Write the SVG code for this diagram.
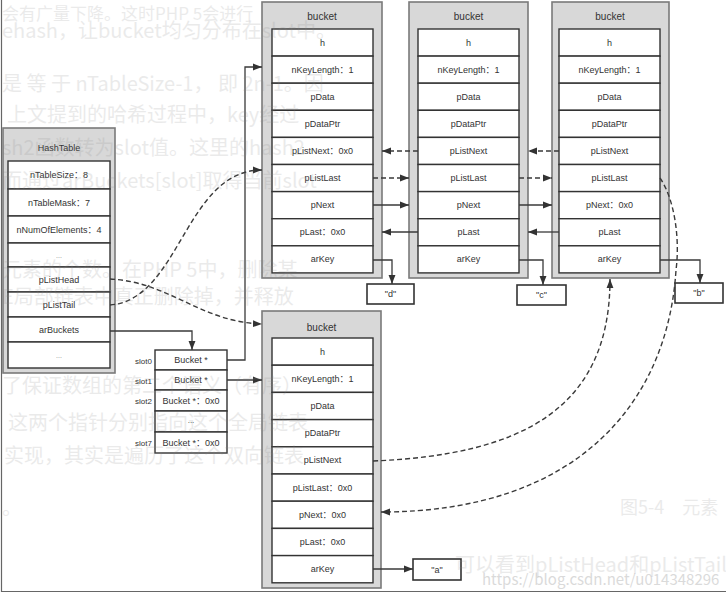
<svg xmlns="http://www.w3.org/2000/svg" width="726" height="593" viewBox="0 0 726 593">
<style>
.outer{fill:#d8d8d8;stroke:#7a7a7a;stroke-width:1.6}
.row{fill:#fff;stroke:#333;stroke-width:1.4}
.box{fill:#fff;stroke:#333;stroke-width:1.6}
.t{font-family:"Liberation Sans","Noto Sans CJK SC",sans-serif;font-size:9px;fill:#333;text-anchor:middle;dominant-baseline:central}
.ttl{font-family:"Liberation Sans","Noto Sans CJK SC",sans-serif;font-size:10px;fill:#333;text-anchor:middle;dominant-baseline:central}
.sl{font-family:"Liberation Sans",sans-serif;font-size:8px;fill:#333;text-anchor:end;dominant-baseline:central}
.c{fill:none;stroke:#3a3a3a;stroke-width:1.3}
.d{fill:none;stroke:#3a3a3a;stroke-width:1.4;stroke-dasharray:5 3}
.g{font-family:"Noto Sans CJK SC","Liberation Sans",sans-serif;font-size:20px;fill:#888;opacity:0.17}
</style>
<defs>
<marker id="ah" viewBox="0 0 10 10" refX="10" refY="5" markerWidth="9" markerHeight="9" markerUnits="userSpaceOnUse" orient="auto"><path d="M0,1.2 L10,5 L0,8.8 z" fill="#333"/></marker>
</defs>
<rect width="726" height="593" fill="#fff"/>
<path d="M1.5,0 V591.5 H726" fill="none" stroke="#666" stroke-width="1.2"/>

<g id="hashtable">
<rect class="outer" x="3" y="128" width="112" height="245"/>
<text class="ttl" x="59" y="148" style="font-size:9px">HashTable</text>
<rect class="row" x="8" y="161" width="102" height="28"/><text class="t" x="59" y="175">nTableSize：8</text>
<rect class="row" x="8" y="189" width="102" height="27"/><text class="t" x="59" y="202.5">nTableMask：7</text>
<rect class="row" x="8" y="216" width="102" height="27"/><text class="t" x="59" y="229.5">nNumOfElements：4</text>
<rect class="row" x="8" y="243" width="102" height="24"/><text class="t" x="59" y="255" style="font-size:7px;fill:#888">...</text>
<rect class="row" x="8" y="267" width="102" height="25"/><text class="t" x="59" y="279.5">pListHead</text>
<rect class="row" x="8" y="292" width="102" height="25"/><text class="t" x="59" y="304.5">pListTail</text>
<rect class="row" x="8" y="317" width="102" height="25"/><text class="t" x="59" y="329.5">arBuckets</text>
<rect class="row" x="8" y="342" width="102" height="26"/><text class="t" x="59" y="355" style="font-size:7px;fill:#888">...</text>
</g>

<g id="slots">
<rect class="row" x="155" y="350" width="72" height="20"/><text class="t" x="191" y="360">Bucket *</text>
<rect class="row" x="155" y="370" width="72" height="20"/><text class="t" x="191" y="380">Bucket *</text>
<rect class="row" x="155" y="390" width="72" height="21"/><text class="t" x="191" y="400.5">Bucket *：0x0</text>
<rect class="row" x="155" y="411" width="72" height="21"/><text class="t" x="191" y="420" style="font-size:8px">...</text>
<rect class="row" x="155" y="432" width="72" height="21"/><text class="t" x="191" y="442.5">Bucket *：0x0</text>
<text class="sl" x="152" y="361">slot0</text>
<text class="sl" x="152" y="381">slot1</text>
<text class="sl" x="152" y="401">slot2</text>
<text class="sl" x="152" y="443">slot7</text>
</g>

<g id="bucket-d">
<rect class="outer" x="262" y="2" width="120" height="276"/>
<text class="ttl" x="322" y="16">bucket</text>
<rect class="row" x="272" y="29" width="101" height="27.1"/><text class="t" x="322.5" y="42.5">h</text>
<rect class="row" x="272" y="56.1" width="101" height="27.1"/><text class="t" x="322.5" y="69.6">nKeyLength：1</text>
<rect class="row" x="272" y="83.2" width="101" height="27.1"/><text class="t" x="322.5" y="96.7">pData</text>
<rect class="row" x="272" y="110.3" width="101" height="27.1"/><text class="t" x="322.5" y="123.8">pDataPtr</text>
<rect class="row" x="272" y="137.4" width="101" height="27.1"/><text class="t" x="322.5" y="151">pListNext：0x0</text>
<rect class="row" x="272" y="164.5" width="101" height="27.1"/><text class="t" x="322.5" y="178">pListLast</text>
<rect class="row" x="272" y="191.6" width="101" height="27.1"/><text class="t" x="322.5" y="205.1">pNext</text>
<rect class="row" x="272" y="218.7" width="101" height="27.1"/><text class="t" x="322.5" y="232.2">pLast：0x0</text>
<rect class="row" x="272" y="245.8" width="101" height="27.1"/><text class="t" x="322.5" y="259.3">arKey</text>
</g>

<g id="bucket-c">
<rect class="outer" x="409" y="2" width="119" height="276"/>
<text class="ttl" x="468.5" y="16">bucket</text>
<rect class="row" x="418" y="29" width="101" height="27.1"/><text class="t" x="468.5" y="42.5">h</text>
<rect class="row" x="418" y="56.1" width="101" height="27.1"/><text class="t" x="468.5" y="69.6">nKeyLength：1</text>
<rect class="row" x="418" y="83.2" width="101" height="27.1"/><text class="t" x="468.5" y="96.7">pData</text>
<rect class="row" x="418" y="110.3" width="101" height="27.1"/><text class="t" x="468.5" y="123.8">pDataPtr</text>
<rect class="row" x="418" y="137.4" width="101" height="27.1"/><text class="t" x="468.5" y="151">pListNext</text>
<rect class="row" x="418" y="164.5" width="101" height="27.1"/><text class="t" x="468.5" y="178">pListLast</text>
<rect class="row" x="418" y="191.6" width="101" height="27.1"/><text class="t" x="468.5" y="205.1">pNext</text>
<rect class="row" x="418" y="218.7" width="101" height="27.1"/><text class="t" x="468.5" y="232.2">pLast</text>
<rect class="row" x="418" y="245.8" width="101" height="27.1"/><text class="t" x="468.5" y="259.3">arKey</text>
</g>

<g id="bucket-b">
<rect class="outer" x="552" y="2" width="117" height="276"/>
<text class="ttl" x="610" y="16">bucket</text>
<rect class="row" x="559" y="29" width="101" height="27.1"/><text class="t" x="609.5" y="42.5">h</text>
<rect class="row" x="559" y="56.1" width="101" height="27.1"/><text class="t" x="609.5" y="69.6">nKeyLength：1</text>
<rect class="row" x="559" y="83.2" width="101" height="27.1"/><text class="t" x="609.5" y="96.7">pData</text>
<rect class="row" x="559" y="110.3" width="101" height="27.1"/><text class="t" x="609.5" y="123.8">pDataPtr</text>
<rect class="row" x="559" y="137.4" width="101" height="27.1"/><text class="t" x="609.5" y="151">pListNext</text>
<rect class="row" x="559" y="164.5" width="101" height="27.1"/><text class="t" x="609.5" y="178">pListLast</text>
<rect class="row" x="559" y="191.6" width="101" height="27.1"/><text class="t" x="609.5" y="205.1">pNext：0x0</text>
<rect class="row" x="559" y="218.7" width="101" height="27.1"/><text class="t" x="609.5" y="232.2">pLast</text>
<rect class="row" x="559" y="245.8" width="101" height="27.1"/><text class="t" x="609.5" y="259.3">arKey</text>
</g>

<g id="bucket-a">
<rect class="outer" x="262" y="311" width="119" height="277"/>
<text class="ttl" x="321.5" y="327">bucket</text>
<rect class="row" x="272" y="338" width="101" height="27.2"/><text class="t" x="322.5" y="351.6">h</text>
<rect class="row" x="272" y="365.2" width="101" height="27.2"/><text class="t" x="322.5" y="378.8">nKeyLength：1</text>
<rect class="row" x="272" y="392.4" width="101" height="27.2"/><text class="t" x="322.5" y="406">pData</text>
<rect class="row" x="272" y="419.6" width="101" height="27.2"/><text class="t" x="322.5" y="433.2">pDataPtr</text>
<rect class="row" x="272" y="446.8" width="101" height="27.2"/><text class="t" x="322.5" y="460.4">pListNext</text>
<rect class="row" x="272" y="474" width="101" height="27.2"/><text class="t" x="322.5" y="487.6">pListLast：0x0</text>
<rect class="row" x="272" y="501.2" width="101" height="27.2"/><text class="t" x="322.5" y="514.8">pNext：0x0</text>
<rect class="row" x="272" y="528.4" width="101" height="27.2"/><text class="t" x="322.5" y="542">pLast：0x0</text>
<rect class="row" x="272" y="555.6" width="101" height="27.2"/><text class="t" x="322.5" y="569.2">arKey</text>
</g>

<g id="key-d"><rect class="box" x="367" y="284" width="47" height="20"/><text class="t" x="390.5" y="294">"d"</text></g>
<g id="key-c"><rect class="box" x="517" y="285" width="49" height="20"/><text class="t" x="541.5" y="295">"c"</text></g>
<g id="key-b"><rect class="box" x="675" y="283" width="48" height="20"/><text class="t" x="699" y="293">"b"</text></g>
<g id="key-a"><rect class="box" x="413" y="559" width="48" height="21"/><text class="t" x="437" y="569.5">"a"</text></g>

<g id="connectors">
<path class="c" d="M110,331 H192 V350" marker-end="url(#ah)"/>
<path class="c" d="M227,360 H245 V67 H262" marker-end="url(#ah)"/>
<path class="c" d="M227,380 H262" marker-end="url(#ah)"/>
<path class="d" d="M110,279 C170,282 200,322 262,324" marker-end="url(#ah)"/>
<path class="d" d="M110,305 C180,300 185,170 262,170" marker-end="url(#ah)"/>
<path class="d" d="M373,178 H409" marker-end="url(#ah)"/>
<path class="d" d="M418,151 H382" marker-end="url(#ah)"/>
<path class="c" d="M373,205 H409" marker-end="url(#ah)"/>
<path class="c" d="M418,232 H382" marker-end="url(#ah)"/>
<path class="c" d="M373,260 H392 V284" marker-end="url(#ah)"/>
<path class="d" d="M519,178 H552" marker-end="url(#ah)"/>
<path class="d" d="M559,151 H528" marker-end="url(#ah)"/>
<path class="c" d="M519,205 H552" marker-end="url(#ah)"/>
<path class="c" d="M559,232 H528" marker-end="url(#ah)"/>
<path class="c" d="M519,260 H543 V285" marker-end="url(#ah)"/>
<path class="c" d="M660,260 H700 V283" marker-end="url(#ah)"/>
<path class="d" d="M660,178 C675,200 680,240 676,270 C668,400 580,512 381,512" marker-end="url(#ah)"/>
<path class="d" d="M373,461 C520,455 610,410 610,279" marker-end="url(#ah)"/>
<path class="c" d="M373,569 H413" marker-end="url(#ah)"/>
</g>

<g id="ghost-text">
<text class="g" x="2" y="20" style="font-size:17px">会有广量下降。这时PHP 5会进行</text>
<text class="g" x="2" y="38">ehash，让bucket均匀分布在slot中。</text>
<text class="g" x="2" y="91">是 等 于 nTableSize-1， 即 2n-1。因</text>
<text class="g" x="7" y="122">上文提到的哈希过程中，key经过</text>
<text class="g" x="2" y="155">sh2函数转为slot值。这里的hash2</text>
<text class="g" x="2" y="188">而通过arBuckets[slot]取得当前slot</text>
<text class="g" x="2" y="277">元素的个数。在PHP 5中，删除某</text>
<text class="g" x="2" y="304">E局部链表中真正删除掉，并释放</text>
<text class="g" x="2" y="393">了保证数组的第二个语义（有序）</text>
<text class="g" x="8" y="430">这两个指针分别指向这个全局链表</text>
<text class="g" x="4" y="463">实现，其实是遍历了这个双向链表</text>
<text class="g" x="2" y="515">。</text>
<text class="g" x="620" y="514" style="font-size:18px">图5-4　元素</text>
<text class="g" x="455" y="572">可以看到pListHead和pListTail</text>
<text class="g" x="482" y="585" style="font-size:15px;opacity:0.3">https://blog.csdn.net/u014348296</text>
</g>
</svg>
